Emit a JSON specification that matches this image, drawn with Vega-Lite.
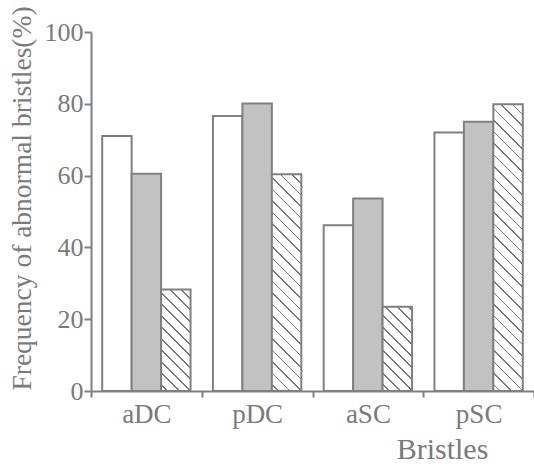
{
  "$schema": "https://vega.github.io/schema/vega-lite/v6.json",
  "width": 443,
  "height": 359,
  "autosize": {"type": "none"},
  "padding": {"left": 91, "top": 32, "right": 0, "bottom": 76},
  "background": "white",
  "config": {
    "view": {"stroke": null},
    "font": "Liberation Serif",
    "axis": {
      "domainColor": "#808080",
      "domainWidth": 2,
      "tickColor": "#808080",
      "tickWidth": 2,
      "grid": false,
      "labelFont": "Liberation Serif",
      "titleFont": "Liberation Serif",
      "labelColor": "#7a7a7a",
      "titleColor": "#7a7a7a",
      "titleFontWeight": "normal"
    }
  },
  "data": {
    "values": [
      {"bristle": "aDC", "group": "A", "freq": 71},
      {"bristle": "aDC", "group": "B", "freq": 60.5},
      {"bristle": "aDC", "group": "C", "freq": 28.3},
      {"bristle": "pDC", "group": "A", "freq": 76.6},
      {"bristle": "pDC", "group": "B", "freq": 80.1},
      {"bristle": "pDC", "group": "C", "freq": 60.4},
      {"bristle": "aSC", "group": "A", "freq": 46.2},
      {"bristle": "aSC", "group": "B", "freq": 53.6},
      {"bristle": "aSC", "group": "C", "freq": 23.5},
      {"bristle": "pSC", "group": "A", "freq": 72},
      {"bristle": "pSC", "group": "B", "freq": 75},
      {"bristle": "pSC", "group": "C", "freq": 79.9}
    ]
  },
  "mark": {"type": "bar", "stroke": "#808080", "strokeWidth": 2},
  "encoding": {
    "x": {
      "field": "bristle",
      "type": "nominal",
      "sort": ["aDC", "pDC", "aSC", "pSC"],
      "scale": {"paddingInner": 0, "paddingOuter": 0},
      "axis": {
        "title": "Bristles",
        "labelAngle": 0,
        "labelFontSize": 27,
        "labelBaseline": "alphabetic",
        "labelPadding": 25,
        "tickSize": 6,
        "tickBand": "extent",
        "titleFontSize": 30,
        "titleX": 351,
        "titleY": 67,
        "titleBaseline": "alphabetic",
        "titleAnchor": null,
        "titleAlign": "center"
      }
    },
    "xOffset": {
      "field": "group",
      "type": "nominal",
      "scale": {"paddingInner": 0, "paddingOuter": 0.38}
    },
    "y": {
      "field": "freq",
      "type": "quantitative",
      "scale": {"domain": [0, 100], "nice": false},
      "axis": {
        "title": "Frequency of abnormal bristles(%)",
        "values": [0, 20, 40, 60, 80, 100],
        "labelFontSize": 26,
        "labelPadding": 1,
        "tickSize": 7,
        "titleFontSize": 27.5,
        "titleX": -61,
        "titleY": 166,
        "titleAngle": 270,
        "titleBaseline": "alphabetic",
        "titleAlign": "center"
      }
    },
    "fill": {
      "condition": [
        {
          "test": "datum.group === 'C' && datum.bristle === 'aDC'",
          "value": {
            "gradient": "linear", "x1": 0, "y1": 1, "x2": 0.3455, "y2": -0.190,
            "stops": [
              {"offset": 0, "color": "#fff"},
              {"offset": 0.044, "color": "#fff"}, {"offset": 0.044, "color": "#777"}, {"offset": 0.058, "color": "#777"}, {"offset": 0.058, "color": "#fff"},
              {"offset": 0.132, "color": "#fff"}, {"offset": 0.132, "color": "#777"}, {"offset": 0.146, "color": "#777"}, {"offset": 0.146, "color": "#fff"},
              {"offset": 0.219, "color": "#fff"}, {"offset": 0.219, "color": "#777"}, {"offset": 0.233, "color": "#777"}, {"offset": 0.233, "color": "#fff"},
              {"offset": 0.307, "color": "#fff"}, {"offset": 0.307, "color": "#777"}, {"offset": 0.321, "color": "#777"}, {"offset": 0.321, "color": "#fff"},
              {"offset": 0.395, "color": "#fff"}, {"offset": 0.395, "color": "#777"}, {"offset": 0.409, "color": "#777"}, {"offset": 0.409, "color": "#fff"},
              {"offset": 0.483, "color": "#fff"}, {"offset": 0.483, "color": "#777"}, {"offset": 0.497, "color": "#777"}, {"offset": 0.497, "color": "#fff"},
              {"offset": 0.570, "color": "#fff"}, {"offset": 0.570, "color": "#777"}, {"offset": 0.584, "color": "#777"}, {"offset": 0.584, "color": "#fff"},
              {"offset": 0.658, "color": "#fff"}, {"offset": 0.658, "color": "#777"}, {"offset": 0.672, "color": "#777"}, {"offset": 0.672, "color": "#fff"},
              {"offset": 0.746, "color": "#fff"}, {"offset": 0.746, "color": "#777"}, {"offset": 0.760, "color": "#777"}, {"offset": 0.760, "color": "#fff"},
              {"offset": 0.833, "color": "#fff"}, {"offset": 0.833, "color": "#777"}, {"offset": 0.847, "color": "#777"}, {"offset": 0.847, "color": "#fff"},
              {"offset": 0.921, "color": "#fff"}, {"offset": 0.921, "color": "#777"}, {"offset": 0.935, "color": "#777"}, {"offset": 0.935, "color": "#fff"},
              {"offset": 1, "color": "#fff"}
            ]
          }
        },
        {
          "test": "datum.group === 'C' && datum.bristle === 'pDC'",
          "value": {
            "gradient": "linear", "x1": 0, "y1": 1, "x2": 0.1518, "y2": -0.1154,
            "stops": [
              {"offset": 0, "color": "#fff"},
              {"offset": 0.0233, "color": "#fff"}, {"offset": 0.0233, "color": "#777"}, {"offset": 0.0306, "color": "#777"}, {"offset": 0.0306, "color": "#fff"},
              {"offset": 0.0700, "color": "#fff"}, {"offset": 0.0700, "color": "#777"}, {"offset": 0.0773, "color": "#777"}, {"offset": 0.0773, "color": "#fff"},
              {"offset": 0.1167, "color": "#fff"}, {"offset": 0.1167, "color": "#777"}, {"offset": 0.1240, "color": "#777"}, {"offset": 0.1240, "color": "#fff"},
              {"offset": 0.1634, "color": "#fff"}, {"offset": 0.1634, "color": "#777"}, {"offset": 0.1707, "color": "#777"}, {"offset": 0.1707, "color": "#fff"},
              {"offset": 0.2101, "color": "#fff"}, {"offset": 0.2101, "color": "#777"}, {"offset": 0.2174, "color": "#777"}, {"offset": 0.2174, "color": "#fff"},
              {"offset": 0.2568, "color": "#fff"}, {"offset": 0.2568, "color": "#777"}, {"offset": 0.2641, "color": "#777"}, {"offset": 0.2641, "color": "#fff"},
              {"offset": 0.3035, "color": "#fff"}, {"offset": 0.3035, "color": "#777"}, {"offset": 0.3108, "color": "#777"}, {"offset": 0.3108, "color": "#fff"},
              {"offset": 0.3502, "color": "#fff"}, {"offset": 0.3502, "color": "#777"}, {"offset": 0.3575, "color": "#777"}, {"offset": 0.3575, "color": "#fff"},
              {"offset": 0.3969, "color": "#fff"}, {"offset": 0.3969, "color": "#777"}, {"offset": 0.4042, "color": "#777"}, {"offset": 0.4042, "color": "#fff"},
              {"offset": 0.4436, "color": "#fff"}, {"offset": 0.4436, "color": "#777"}, {"offset": 0.4509, "color": "#777"}, {"offset": 0.4509, "color": "#fff"},
              {"offset": 0.4903, "color": "#fff"}, {"offset": 0.4903, "color": "#777"}, {"offset": 0.4976, "color": "#777"}, {"offset": 0.4976, "color": "#fff"},
              {"offset": 0.5370, "color": "#fff"}, {"offset": 0.5370, "color": "#777"}, {"offset": 0.5443, "color": "#777"}, {"offset": 0.5443, "color": "#fff"},
              {"offset": 0.5837, "color": "#fff"}, {"offset": 0.5837, "color": "#777"}, {"offset": 0.5910, "color": "#777"}, {"offset": 0.5910, "color": "#fff"},
              {"offset": 0.6304, "color": "#fff"}, {"offset": 0.6304, "color": "#777"}, {"offset": 0.6377, "color": "#777"}, {"offset": 0.6377, "color": "#fff"},
              {"offset": 0.6771, "color": "#fff"}, {"offset": 0.6771, "color": "#777"}, {"offset": 0.6844, "color": "#777"}, {"offset": 0.6844, "color": "#fff"},
              {"offset": 0.7238, "color": "#fff"}, {"offset": 0.7238, "color": "#777"}, {"offset": 0.7311, "color": "#777"}, {"offset": 0.7311, "color": "#fff"},
              {"offset": 0.7705, "color": "#fff"}, {"offset": 0.7705, "color": "#777"}, {"offset": 0.7778, "color": "#777"}, {"offset": 0.7778, "color": "#fff"},
              {"offset": 0.8172, "color": "#fff"}, {"offset": 0.8172, "color": "#777"}, {"offset": 0.8245, "color": "#777"}, {"offset": 0.8245, "color": "#fff"},
              {"offset": 0.8639, "color": "#fff"}, {"offset": 0.8639, "color": "#777"}, {"offset": 0.8712, "color": "#777"}, {"offset": 0.8712, "color": "#fff"},
              {"offset": 0.9106, "color": "#fff"}, {"offset": 0.9106, "color": "#777"}, {"offset": 0.9179, "color": "#777"}, {"offset": 0.9179, "color": "#fff"},
              {"offset": 0.9573, "color": "#fff"}, {"offset": 0.9573, "color": "#777"}, {"offset": 0.9646, "color": "#777"}, {"offset": 0.9646, "color": "#fff"},
              {"offset": 1, "color": "#fff"}
            ]
          }
        },
        {
          "test": "datum.group === 'C' && datum.bristle === 'aSC'",
          "value": {
            "gradient": "linear", "x1": 0, "y1": 1, "x2": 0.4203, "y2": -0.2026,
            "stops": [
              {"offset": 0, "color": "#fff"},
              {"offset": 0.050, "color": "#fff"}, {"offset": 0.050, "color": "#777"}, {"offset": 0.066, "color": "#777"}, {"offset": 0.066, "color": "#fff"},
              {"offset": 0.151, "color": "#fff"}, {"offset": 0.151, "color": "#777"}, {"offset": 0.167, "color": "#777"}, {"offset": 0.167, "color": "#fff"},
              {"offset": 0.252, "color": "#fff"}, {"offset": 0.252, "color": "#777"}, {"offset": 0.268, "color": "#777"}, {"offset": 0.268, "color": "#fff"},
              {"offset": 0.353, "color": "#fff"}, {"offset": 0.353, "color": "#777"}, {"offset": 0.369, "color": "#777"}, {"offset": 0.369, "color": "#fff"},
              {"offset": 0.454, "color": "#fff"}, {"offset": 0.454, "color": "#777"}, {"offset": 0.470, "color": "#777"}, {"offset": 0.470, "color": "#fff"},
              {"offset": 0.555, "color": "#fff"}, {"offset": 0.555, "color": "#777"}, {"offset": 0.571, "color": "#777"}, {"offset": 0.571, "color": "#fff"},
              {"offset": 0.656, "color": "#fff"}, {"offset": 0.656, "color": "#777"}, {"offset": 0.672, "color": "#777"}, {"offset": 0.672, "color": "#fff"},
              {"offset": 0.757, "color": "#fff"}, {"offset": 0.757, "color": "#777"}, {"offset": 0.773, "color": "#777"}, {"offset": 0.773, "color": "#fff"},
              {"offset": 0.858, "color": "#fff"}, {"offset": 0.858, "color": "#777"}, {"offset": 0.874, "color": "#777"}, {"offset": 0.874, "color": "#fff"},
              {"offset": 0.959, "color": "#fff"}, {"offset": 0.959, "color": "#777"}, {"offset": 0.975, "color": "#777"}, {"offset": 0.975, "color": "#fff"},
              {"offset": 1, "color": "#fff"}
            ]
          }
        },
        {
          "test": "datum.group === 'C' && datum.bristle === 'pSC'",
          "value": {
            "gradient": "linear", "x1": 0, "y1": 1, "x2": 0.1123, "y2": -0.0913,
            "stops": [
              {"offset": 0, "color": "#fff"},
              {"offset": 0.0182, "color": "#fff"}, {"offset": 0.0182, "color": "#777"}, {"offset": 0.0239, "color": "#777"}, {"offset": 0.0239, "color": "#fff"},
              {"offset": 0.0545, "color": "#fff"}, {"offset": 0.0545, "color": "#777"}, {"offset": 0.0602, "color": "#777"}, {"offset": 0.0602, "color": "#fff"},
              {"offset": 0.0909, "color": "#fff"}, {"offset": 0.0909, "color": "#777"}, {"offset": 0.0966, "color": "#777"}, {"offset": 0.0966, "color": "#fff"},
              {"offset": 0.1273, "color": "#fff"}, {"offset": 0.1273, "color": "#777"}, {"offset": 0.1330, "color": "#777"}, {"offset": 0.1330, "color": "#fff"},
              {"offset": 0.1636, "color": "#fff"}, {"offset": 0.1636, "color": "#777"}, {"offset": 0.1693, "color": "#777"}, {"offset": 0.1693, "color": "#fff"},
              {"offset": 0.2000, "color": "#fff"}, {"offset": 0.2000, "color": "#777"}, {"offset": 0.2057, "color": "#777"}, {"offset": 0.2057, "color": "#fff"},
              {"offset": 0.2364, "color": "#fff"}, {"offset": 0.2364, "color": "#777"}, {"offset": 0.2421, "color": "#777"}, {"offset": 0.2421, "color": "#fff"},
              {"offset": 0.2727, "color": "#fff"}, {"offset": 0.2727, "color": "#777"}, {"offset": 0.2784, "color": "#777"}, {"offset": 0.2784, "color": "#fff"},
              {"offset": 0.3091, "color": "#fff"}, {"offset": 0.3091, "color": "#777"}, {"offset": 0.3148, "color": "#777"}, {"offset": 0.3148, "color": "#fff"},
              {"offset": 0.3454, "color": "#fff"}, {"offset": 0.3454, "color": "#777"}, {"offset": 0.3511, "color": "#777"}, {"offset": 0.3511, "color": "#fff"},
              {"offset": 0.3818, "color": "#fff"}, {"offset": 0.3818, "color": "#777"}, {"offset": 0.3875, "color": "#777"}, {"offset": 0.3875, "color": "#fff"},
              {"offset": 0.4182, "color": "#fff"}, {"offset": 0.4182, "color": "#777"}, {"offset": 0.4239, "color": "#777"}, {"offset": 0.4239, "color": "#fff"},
              {"offset": 0.4545, "color": "#fff"}, {"offset": 0.4545, "color": "#777"}, {"offset": 0.4602, "color": "#777"}, {"offset": 0.4602, "color": "#fff"},
              {"offset": 0.4909, "color": "#fff"}, {"offset": 0.4909, "color": "#777"}, {"offset": 0.4966, "color": "#777"}, {"offset": 0.4966, "color": "#fff"},
              {"offset": 0.5272, "color": "#fff"}, {"offset": 0.5272, "color": "#777"}, {"offset": 0.5329, "color": "#777"}, {"offset": 0.5329, "color": "#fff"},
              {"offset": 0.5636, "color": "#fff"}, {"offset": 0.5636, "color": "#777"}, {"offset": 0.5693, "color": "#777"}, {"offset": 0.5693, "color": "#fff"},
              {"offset": 0.6000, "color": "#fff"}, {"offset": 0.6000, "color": "#777"}, {"offset": 0.6057, "color": "#777"}, {"offset": 0.6057, "color": "#fff"},
              {"offset": 0.6363, "color": "#fff"}, {"offset": 0.6363, "color": "#777"}, {"offset": 0.6420, "color": "#777"}, {"offset": 0.6420, "color": "#fff"},
              {"offset": 0.6727, "color": "#fff"}, {"offset": 0.6727, "color": "#777"}, {"offset": 0.6784, "color": "#777"}, {"offset": 0.6784, "color": "#fff"},
              {"offset": 0.7091, "color": "#fff"}, {"offset": 0.7091, "color": "#777"}, {"offset": 0.7148, "color": "#777"}, {"offset": 0.7148, "color": "#fff"},
              {"offset": 0.7454, "color": "#fff"}, {"offset": 0.7454, "color": "#777"}, {"offset": 0.7511, "color": "#777"}, {"offset": 0.7511, "color": "#fff"},
              {"offset": 0.7818, "color": "#fff"}, {"offset": 0.7818, "color": "#777"}, {"offset": 0.7875, "color": "#777"}, {"offset": 0.7875, "color": "#fff"},
              {"offset": 0.8181, "color": "#fff"}, {"offset": 0.8181, "color": "#777"}, {"offset": 0.8238, "color": "#777"}, {"offset": 0.8238, "color": "#fff"},
              {"offset": 0.8545, "color": "#fff"}, {"offset": 0.8545, "color": "#777"}, {"offset": 0.8602, "color": "#777"}, {"offset": 0.8602, "color": "#fff"},
              {"offset": 0.8909, "color": "#fff"}, {"offset": 0.8909, "color": "#777"}, {"offset": 0.8966, "color": "#777"}, {"offset": 0.8966, "color": "#fff"},
              {"offset": 0.9272, "color": "#fff"}, {"offset": 0.9272, "color": "#777"}, {"offset": 0.9329, "color": "#777"}, {"offset": 0.9329, "color": "#fff"},
              {"offset": 0.9636, "color": "#fff"}, {"offset": 0.9636, "color": "#777"}, {"offset": 0.9693, "color": "#777"}, {"offset": 0.9693, "color": "#fff"},
              {"offset": 1, "color": "#fff"}
            ]
          }
        },
        {"test": "datum.group === 'B'", "value": "#c2c2c2"}
      ],
      "value": "#ffffff"
    }
  }
}
